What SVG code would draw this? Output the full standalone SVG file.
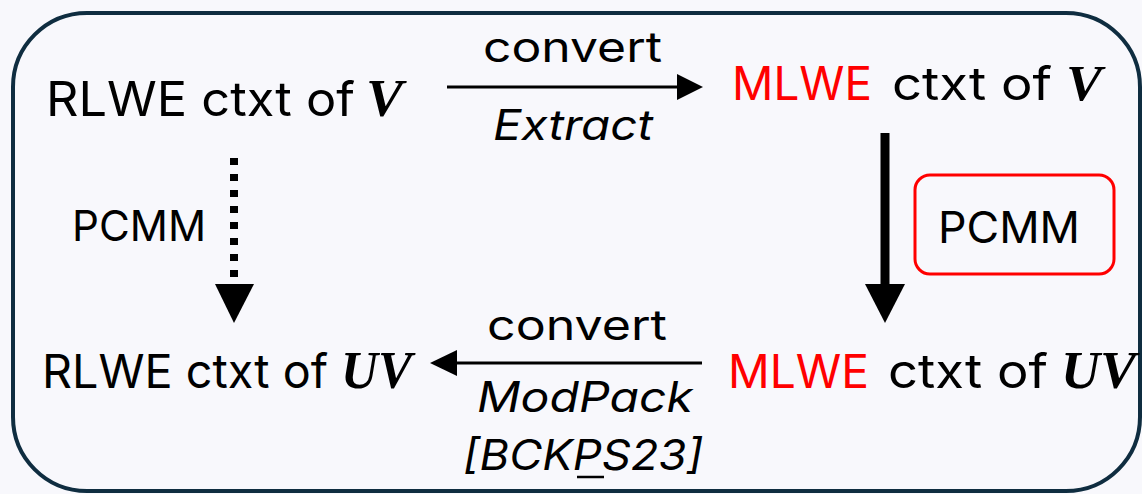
<svg xmlns="http://www.w3.org/2000/svg" width="1142" height="494" viewBox="0 0 1142 494">
<style>
.t{font-family:Inter,"Noto Sans","Liberation Sans",sans-serif;fill:#000}
.it{font-style:italic}
.red{fill:#FF0000}
.m{font-family:"Liberation Serif","DejaVu Serif",serif;font-weight:bold;font-style:italic;fill:#000}
.ln{stroke:#000;fill:none}
.hd{fill:#000}
</style>
<rect width="1142" height="494" fill="#F8F8FC"/>
<rect id="frame" x="13" y="13" width="1127" height="478" rx="74" ry="74" fill="#F8F8FC" stroke="#0F2D40" stroke-width="4"/>
<g id="connectors">
  <line class="ln" x1="447" y1="87" x2="680" y2="87" stroke-width="3"/>
  <polygon class="hd" points="677,74 703,87 677,100"/>
  <line class="ln" x1="457" y1="363" x2="702" y2="363" stroke-width="3"/>
  <polygon class="hd" points="457,350 430,363 457,376"/>
  <line class="ln" x1="885" y1="133" x2="885" y2="287" stroke-width="9"/>
  <polygon class="hd" points="865,284 905,284 885,323"/>
  <line class="ln" x1="234" y1="158" x2="234" y2="280" stroke-width="8" stroke-dasharray="7 9"/>
  <polygon class="hd" points="215,284 254,284 234,323"/>
</g>
<g id="label-top">
  <text class="t" x="483" y="62" font-size="42" textLength="179" lengthAdjust="spacingAndGlyphs">convert</text>
  <text class="t it" x="493" y="140" font-size="42" textLength="160" lengthAdjust="spacingAndGlyphs">Extract</text>
</g>
<g id="label-bottom">
  <text class="t" x="487" y="340" font-size="42" textLength="180" lengthAdjust="spacingAndGlyphs">convert</text>
  <text class="t it" x="477" y="412" font-size="42" textLength="216" lengthAdjust="spacingAndGlyphs">ModPack</text>
  <text class="t it" x="463" y="470" font-size="42" textLength="240" lengthAdjust="spacingAndGlyphs">[BCKPS23]</text>
  <line x1="577" y1="477" x2="604" y2="477" stroke="#000" stroke-width="2.5"/>
</g>
<g id="node-rlwe-v">
  <text class="t" x="46" y="116" font-size="48" textLength="309" lengthAdjust="spacingAndGlyphs">RLWE ctxt of</text>
  <text class="m" x="366" y="116" font-size="52" textLength="37" lengthAdjust="spacingAndGlyphs">V</text>
</g>
<g id="node-mlwe-v">
  <text class="t red" x="732" y="100" font-size="46" textLength="140" lengthAdjust="spacingAndGlyphs">MLWE</text>
  <text class="t" x="892" y="100" font-size="46" textLength="160" lengthAdjust="spacingAndGlyphs">ctxt of</text>
  <text class="m" x="1066" y="100" font-size="50" textLength="36" lengthAdjust="spacingAndGlyphs">V</text>
</g>
<g id="node-rlwe-uv">
  <text class="t" x="42" y="388" font-size="47" textLength="286" lengthAdjust="spacingAndGlyphs">RLWE ctxt of</text>
  <text class="m" x="341" y="388" font-size="52" textLength="71" lengthAdjust="spacingAndGlyphs">UV</text>
</g>
<g id="node-mlwe-uv">
  <text class="t red" x="728" y="388" font-size="47" textLength="141" lengthAdjust="spacingAndGlyphs">MLWE</text>
  <text class="t" x="888" y="388" font-size="47" textLength="160" lengthAdjust="spacingAndGlyphs">ctxt of</text>
  <text class="m" x="1061" y="388" font-size="52" textLength="75" lengthAdjust="spacingAndGlyphs">UV</text>
</g>
<g id="label-pcmm-left">
  <text class="t" x="72" y="241" font-size="43" textLength="134" lengthAdjust="spacingAndGlyphs">PCMM</text>
</g>
<g id="label-pcmm-right">
  <rect x="915" y="175" width="199" height="99" rx="15" ry="15" fill="none" stroke="#FF0000" stroke-width="3"/>
  <text class="t" x="938" y="243" font-size="44" textLength="142" lengthAdjust="spacingAndGlyphs">PCMM</text>
</g>
</svg>
